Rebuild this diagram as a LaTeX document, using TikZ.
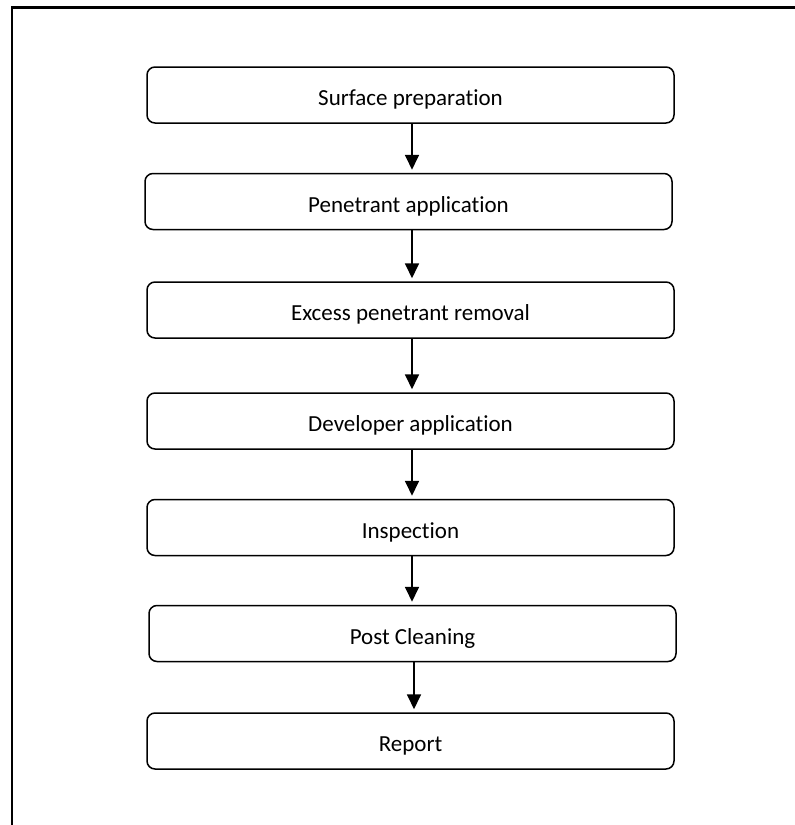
\documentclass[tikz,border=0pt]{standalone}
\usepackage{fontspec}
\setmainfont[Ligatures=NoCommon]{Carlito}
\usetikzlibrary{arrows.meta}
\begin{document}
\begin{tikzpicture}[x=1pt,y=1pt,
  stepbox/.style={draw=black, line width=1.5pt, rounded corners=8pt, minimum height=56pt, inner sep=0pt, font=\fontsize{23}{27}\selectfont, text height=21pt, text depth=0pt},
  arr/.style={line width=1.8pt, -{Triangle[length=15pt,width=14pt]}, shorten >=3pt}]
\useasboundingbox (0,0) rectangle (795,-825);
\draw[line width=2.5pt] (12,-825) -- (12,-7.5) -- (795,-7.5);
\node[stepbox, minimum width=527pt] (b1) at (410.5,-95) {Surface preparation};
\node[stepbox, minimum width=527pt] (b2) at (408.5,-201.5) {Penetrant application};
\node[stepbox, minimum width=527pt] (b3) at (410.5,-310) {Excess penetrant removal};
\node[stepbox, minimum width=527pt] (b4) at (410.5,-421) {Developer application};
\node[stepbox, minimum width=527pt] (b5) at (410.5,-527.5) {Inspection};
\node[stepbox, minimum width=527pt] (b6) at (412.5,-633.5) {Post Cleaning};
\node[stepbox, minimum width=527pt] (b7) at (410.5,-741) {Report};
\coordinate (ax) at (412,0);
\coordinate (ay) at (414,0);
\draw[arr] (b1.south -| ax) -- (b2.north -| ax);
\draw[arr] (b2.south -| ax) -- (b3.north -| ax);
\draw[arr] (b3.south -| ax) -- (b4.north -| ax);
\draw[arr] (b4.south -| ax) -- (b5.north -| ax);
\draw[arr] (b5.south -| ax) -- (b6.north -| ax);
\draw[arr] (b6.south -| ay) -- (b7.north -| ay);
\end{tikzpicture}
\end{document}
